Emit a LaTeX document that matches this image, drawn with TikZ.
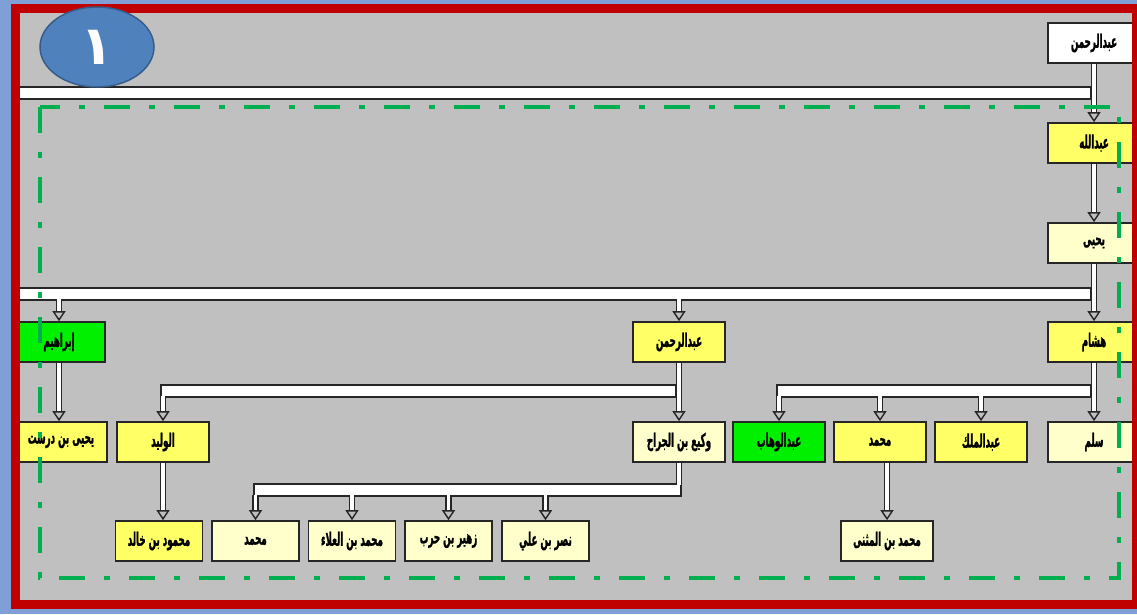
\documentclass[tikz,border=0pt]{standalone}
\usepackage{fontspec}
\usepackage{xcolor}
\usepackage{tikz}
\usetikzlibrary{arrows.meta,shapes.geometric}
\TeXXeTstate=1
\newfontfamily\arabicfont[Script=Arabic]{DejaVu Sans}
\newfontfamily\namefont[Script=Arabic,FakeStretch=0.47,BoldFeatures={FakeBold=1.2}]{DejaVu Sans}

\definecolor{framered}{HTML}{C00000}
\definecolor{panelgray}{HTML}{C0C0C0}
\definecolor{edgeblue}{HTML}{7F9FD6}
\definecolor{ovalblue}{HTML}{4F81BD}
\definecolor{ovalline}{HTML}{385D8A}
\definecolor{dashgreen}{HTML}{00B050}
\definecolor{yel}{HTML}{FFFF66}
\definecolor{paleyel}{HTML}{FFFFCC}
\definecolor{grn}{HTML}{00F000}
\definecolor{wiregray}{HTML}{262626}

\tikzset{
    person/.style={draw=black!85, line width=1.7pt, minimum width=92pt, minimum height=40pt, inner sep=0pt, font=\namefont\bfseries\fontsize{18.5}{20}\selectfont},
    narrow/.style={person, minimum width=87pt},
    bus/.style={draw=wiregray, line width=1.8pt, double=white, double distance=9.5pt, line cap=rect},
    stem/.style={draw=wiregray, line width=1.4pt, double=white, double distance=3.8pt},
    link/.style={stem, -{Triangle[open, length=10pt, width=13pt]}},
    badge/.style={ellipse, draw=ovalline, fill=ovalblue, line width=1.5pt, minimum width=114pt, minimum height=80pt, inner sep=0pt, text=white, font=\arabicfont\bfseries\fontsize{54}{54}\selectfont},
}
\newcommand{\rl}[1]{\beginR #1\endR}

\begin{document}
\begin{tikzpicture}[x=1pt, y=-1pt]
    \useasboundingbox (0,0) rectangle (1137,614);
    \fill[edgeblue] (0,0) rectangle (1137,614);
    \fill[panelgray] (15,8) rectangle (1136,604);

    \node[person, fill=white] (abdrahman) at (1094,43) {\rl{عبدالرحمن}};
    \node[person, fill=yel] (abdallah) at (1094,143) {\rl{عبدالله}};
    \node[person, fill=paleyel] (yahya) at (1094,243) {\rl{يحيى}};

    \node[person, fill=grn] (ibrahim) at (59,342) {\rl{إبراهيم}};
    \node[person, fill=yel] (abdrahmanB) at (679,342) {\rl{عبدالرحمن}};
    \node[person, fill=yel] (hisham) at (1094,342) {\rl{هشام}};

    \node[person, fill=yel] (ibndurust) at (61,442) {\rl{يحيى بن درست}};
    \node[person, fill=yel] (walid) at (163,442) {\rl{الوليد}};
    \node[person, fill=paleyel] (waki) at (679,442) {\rl{وكيع بن الجراح}};
    \node[person, fill=grn] (wahhab) at (779,442) {\rl{عبدالوهاب}};
    \node[person, fill=yel] (muhammad) at (880,442) {\rl{محمد}};
    \node[person, fill=yel] (malik) at (981,442) {\rl{عبدالملك}};
    \node[person, fill=paleyel] (salm) at (1094,442) {\rl{سلم}};

    \node[narrow, fill=yel] (mahmud) at (159,541) {\rl{محمود بن خالد}};
    \node[narrow, fill=paleyel] (muhammadB) at (255.5,541) {\rl{محمد}};
    \node[narrow, fill=paleyel] (alaa) at (352,541) {\rl{محمد بن العلاء}};
    \node[narrow, fill=paleyel] (zuhair) at (448.5,541) {\rl{زهير بن حرب}};
    \node[narrow, fill=paleyel] (nasr) at (545.5,541) {\rl{نصر بن علي}};
    \node[person, fill=paleyel] (muthanna) at (887,541) {\rl{محمد بن المثنى}};

    % bus ends and drop levels
    \coordinate (topbusR) at (1085,93);
    \coordinate (topbusL) at (22,93);
    \coordinate (yabusR) at (1085,294);
    \coordinate (yabusL) at (22,294);
    \coordinate (yadrop) at (0,299);
    \coordinate (abbusR) at (670,391);
    \coordinate (abbusL) at (166.8,391);
    \coordinate (abdrop) at (0,396);
    \coordinate (hibusR) at (1085,391);
    \coordinate (hibusL) at (782.8,391);
    \coordinate (hidrop) at (0,396);
    \coordinate (wabusR) at (675.5,490);
    \coordinate (wabusL) at (259.3,490);
    \coordinate (waturn) at (679,485);
    \coordinate (wadrop) at (0,495);

    \draw[bus] (topbusR) -- (topbusL);
    \draw[link] (abdrahman) -- (abdallah);
    \draw[link] (abdallah) -- (yahya);

    \draw[bus] (yabusR) -- (yabusL);
    \foreach \kid in {ibrahim,abdrahmanB}
        \draw[link] (\kid |- yadrop) -- (\kid);
    \draw[link] (yahya) -- (hisham);
    \draw[link] (ibrahim) -- (ibrahim |- ibndurust.north);

    \draw[bus] (abbusR) -- (abbusL);
    \draw[link] (walid |- abdrop) -- (walid);
    \draw[link] (abdrahmanB) -- (waki);
    \draw[link] (walid) -- (walid |- mahmud.north);

    \draw[bus] (hibusR) -- (hibusL);
    \foreach \kid in {wahhab,muhammad,malik}
        \draw[link] (\kid |- hidrop) -- (\kid);
    \draw[link] (hisham) -- (salm);
    \draw[link] (muthanna |- muhammad.south) -- (muthanna);

    \draw[bus] (wabusR) -- (wabusL);
    \draw[stem] (waki) -- (waturn);
    \foreach \kid in {muhammadB,alaa,zuhair,nasr}
        \draw[link] (\kid |- wadrop) -- (\kid);

    \draw[dashgreen, line width=4pt, dash pattern=on 26pt off 19pt on 6pt off 19pt] (40,107) rectangle (1119,578);
    \draw[framered, line width=9pt] (15,8) rectangle (1136,604);
    \node[badge] (one) at (97,47) {١};
\end{tikzpicture}
\end{document}
